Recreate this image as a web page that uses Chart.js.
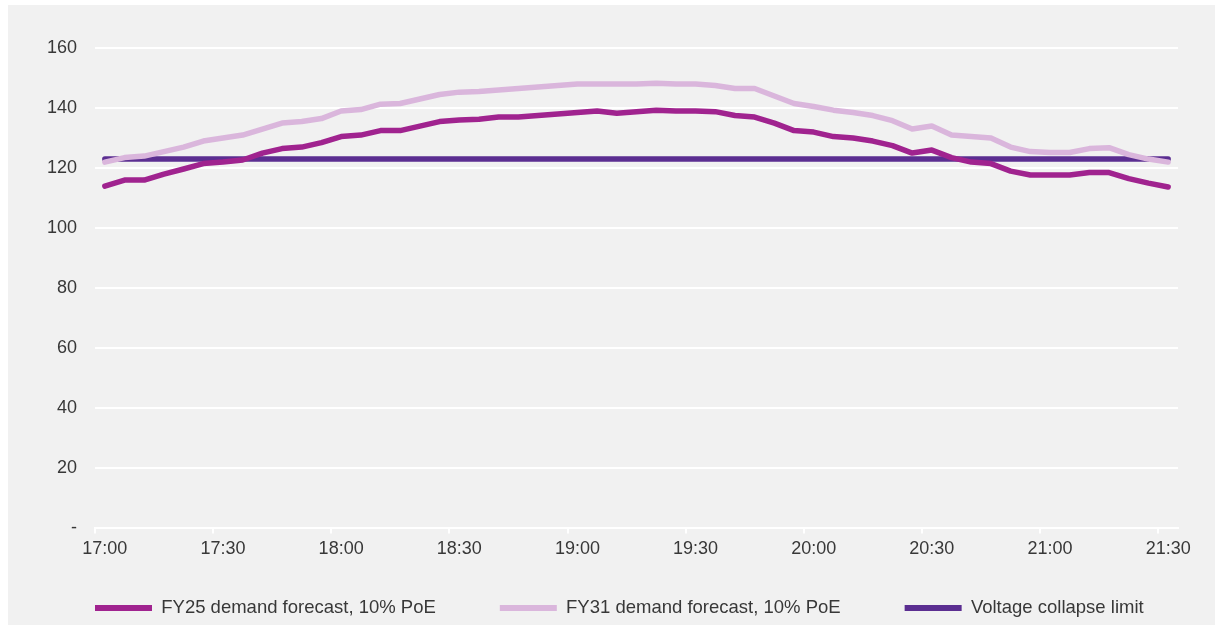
<!DOCTYPE html>
<html>
<head>
<meta charset="utf-8">
<script src="https://cdn.jsdelivr.net/npm/chart.js@4.4.0/dist/chart.umd.min.js"></script>
<style>
  html, body { margin: 0; padding: 0; background: #ffffff; }
  #wrap { position: absolute; left: 8px; top: 5px; width: 1207px; height: 620px; background: #f1f1f1; }
</style>
</head>
<body>
<div id="wrap"><canvas id="chart" width="1207" height="620"></canvas></div>
<script>
// Time slots (5 minute intervals)
const times = ['17:00','17:05','17:10','17:15','17:20','17:25','17:30','17:35','17:40','17:45','17:50','17:55',
  '18:00','18:05','18:10','18:15','18:20','18:25','18:30','18:35','18:40','18:45','18:50','18:55',
  '19:00','19:05','19:10','19:15','19:20','19:25','19:30','19:35','19:40','19:45','19:50','19:55',
  '20:00','20:05','20:10','20:15','20:20','20:25','20:30','20:35','20:40','20:45','20:50','20:55',
  '21:00','21:05','21:10','21:15','21:20','21:25','21:30'];

const fy25 = [114, 116, 116, 118, 119.7, 121.5, 122, 122.7, 125, 126.5, 127, 128.5,
  130.5, 131, 132.5, 132.5, 134, 135.5, 136, 136.3, 137, 137, 137.5, 138,
  138.5, 139, 138.3, 138.8, 139.3, 139, 139, 138.8, 137.5, 137, 135, 132.5,
  132, 130.5, 130, 129, 127.5, 125, 126, 123.5, 122, 121.5, 119, 117.7,
  117.7, 117.7, 118.5, 118.5, 116.5, 115, 113.7];

const fy31 = [122, 123.5, 124, 125.5, 127, 129, 130, 131, 133, 135, 135.5, 136.5,
  139, 139.5, 141.3, 141.5, 143, 144.5, 145.3, 145.5, 146, 146.5, 147, 147.5,
  148, 148, 148, 148, 148.3, 148, 148, 147.5, 146.5, 146.5, 144, 141.5,
  140.5, 139.3, 138.5, 137.5, 135.8, 133, 134, 131, 130.5, 130, 127, 125.5,
  125.2, 125.2, 126.5, 126.8, 124.5, 123, 122];

const voltageLimit = [123, 123, 123, 123, 123, 123, 123, 123, 123, 123, 123, 123,
  123, 123, 123, 123, 123, 123, 123, 123, 123, 123, 123, 123,
  123, 123, 123, 123, 123, 123, 123, 123, 123, 123, 123, 123,
  123, 123, 123, 123, 123, 123, 123, 123, 123, 123, 123, 123,
  123, 123, 123, 123, 123, 123, 123];

const yTicks = [0, 20, 40, 60, 80, 100, 120, 140, 160];

const fontFamily = '"Liberation Sans", Arial, sans-serif';
const textColor = '#383838';
const legendGap = 64;      // horizontal gap between legend items
const legendHeight = 60;   // space kept for the legend row
const legendCenterY = 603; // canvas y of legend row centre

function lineSet(label, data, color) {
  return {
    label: label,
    data: data,
    borderColor: color,
    backgroundColor: color,
    borderWidth: 5.5,
    pointRadius: 0,
    tension: 0,
    borderCapStyle: 'round',
    borderJoinStyle: 'round',
    fill: false
  };
}

// legend padding is used both ways; keep the wide gap but a short box
const legendFix = {
  id: 'legendFix',
  afterInit(chart) {
    const lg = chart.legend;
    const fit = lg.fit.bind(lg);
    lg.fit = function () { fit(); this.height = legendHeight; };
  },
  afterLayout(chart) {
    const lg = chart.legend;
    const shift = (lg.top + legendGap + 18.5 / 2) - legendCenterY;
    lg.top -= shift;
    lg.bottom = chart.height;
    lg.height = lg.bottom - lg.top;
  }
};

const ctx = document.getElementById('chart').getContext('2d');
new Chart(ctx, {
  type: 'line',
  data: {
    labels: times,
    datasets: [
      lineSet('FY25 demand forecast, 10% PoE', fy25, '#a0238f'),
      lineSet('FY31 demand forecast, 10% PoE', fy31, '#dab6dc'),
      lineSet('Voltage collapse limit', voltageLimit, '#5b2e91')
    ]
  },
  plugins: [legendFix],
  options: {
    responsive: false,
    animation: false,
    layout: { padding: { top: 43, right: 5, bottom: 0, left: 23 } },
    plugins: {
      tooltip: { enabled: false },
      legend: {
        position: 'bottom',
        align: 'start',
        labels: {
          color: textColor,
          font: { family: fontFamily, size: 18.5 },
          boxWidth: 57,
          boxHeight: 6,
          padding: legendGap,
          generateLabels: (chart) => chart.data.datasets.map((ds, i) => ({
            text: ds.label,
            fillStyle: ds.borderColor,
            strokeStyle: ds.borderColor,
            lineWidth: 0,
            hidden: false,
            datasetIndex: i,
            fontColor: textColor
          }))
        }
      }
    },
    scales: {
      x: {
        type: 'category',
        offset: true,
        afterFit: (scale) => { scale.paddingRight = 37; },
        border: { display: true, color: '#ffffff', width: 2 },
        grid: {
          offset: true,
          drawOnChartArea: false,
          drawTicks: true,
          tickLength: 5,
          lineWidth: 2,
          color: (c) => (c.index % 6 === 0 ? '#ffffff' : 'rgba(0,0,0,0)')
        },
        ticks: {
          autoSkip: false,
          maxRotation: 0,
          color: textColor,
          padding: 5,
          font: { family: fontFamily, size: 18 },
          callback: function (value, index) {
            return index % 6 === 0 ? times[index] : '';
          }
        }
      },
      y: {
        min: 0,
        max: 160,
        afterBuildTicks: (scale) => { scale.ticks = yTicks.map(v => ({ value: v })); },
        afterFit: (scale) => { scale.width = 64; },
        border: { display: false },
        grid: { color: '#ffffff', lineWidth: 2, drawTicks: false },
        ticks: {
          color: textColor,
          padding: 18,
          font: { family: fontFamily, size: 18 },
          callback: (v) => (v === 0 ? '-' : v)
        }
      }
    }
  }
});
</script>
</body>
</html>
